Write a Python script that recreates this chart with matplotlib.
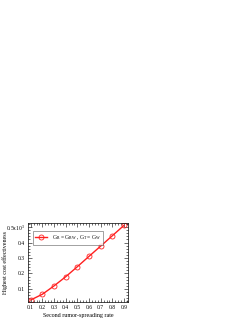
import matplotlib
matplotlib.use("Agg")
import matplotlib.pyplot as plt
from matplotlib.ticker import MultipleLocator

plt.rcParams["font.family"] = ["Liberation Serif", "DejaVu Serif"]
plt.rcParams["mathtext.fontset"] = "custom"
plt.rcParams["mathtext.rm"] = "Liberation Serif"
plt.rcParams["mathtext.it"] = "Liberation Serif"

RED = "#ff2020"

rate = [0.1, 0.2, 0.3, 0.4, 0.5, 0.6, 0.7, 0.8, 0.9]
effectiveness = [0.029, 0.066, 0.120, 0.179, 0.244, 0.311, 0.377, 0.444, 0.511]
y_ticks = [0.1, 0.2, 0.3, 0.4, 0.5]
y_labels = ["0.1", "0.2", "0.3", "0.4", "0.5x10$^{3}$"]
x_ticks = [0.1, 0.2, 0.3, 0.4, 0.5, 0.6, 0.7, 0.8, 0.9]

fig = plt.figure(figsize=(2.49, 3.23), dpi=100)
ax = fig.add_axes([28 / 249, 1 - 302 / 323, 100 / 249, 79 / 323])

ax.plot(rate, effectiveness, color=RED, linewidth=1.0, marker="o",
        markersize=3.6, markerfacecolor="none", markeredgewidth=0.6,
        label=r"G$_{\rm R}$ = G$_{\rm BW}$ , G$_{\rm T}$ = G$_{\rm W}$")

ax.set_xlim(0.077, 0.934)
ax.set_ylim(0.016, 0.526)
ax.set_xticks(x_ticks, [f"{v:g}" for v in x_ticks])
ax.set_yticks(y_ticks, y_labels)
ax.xaxis.set_minor_locator(MultipleLocator(0.025))
ax.yaxis.set_minor_locator(MultipleLocator(0.02))
ax.tick_params(which="both", direction="in", top=True, right=True,
               labelsize=4, pad=2, width=0.4)
ax.tick_params(which="major", length=3)
ax.tick_params(which="minor", length=1.5)
for s in ax.spines.values():
    s.set_linewidth(0.5)

ax.set_xlabel("Second rumor-spreading rate", fontsize=4.3, labelpad=2)
ax.set_ylabel("Highest cost effectiveness", fontsize=4.3)
ax.yaxis.set_label_coords(-0.2, 0.5)

leg = ax.legend(loc="upper left", bbox_to_anchor=(0.02, 0.93), fontsize=4,
                frameon=True, fancybox=False, edgecolor="#333333",
                handlelength=2.2, borderpad=0.4)
leg.get_frame().set_linewidth(0.4)

fig.savefig("out.png", dpi=100, facecolor="white")
